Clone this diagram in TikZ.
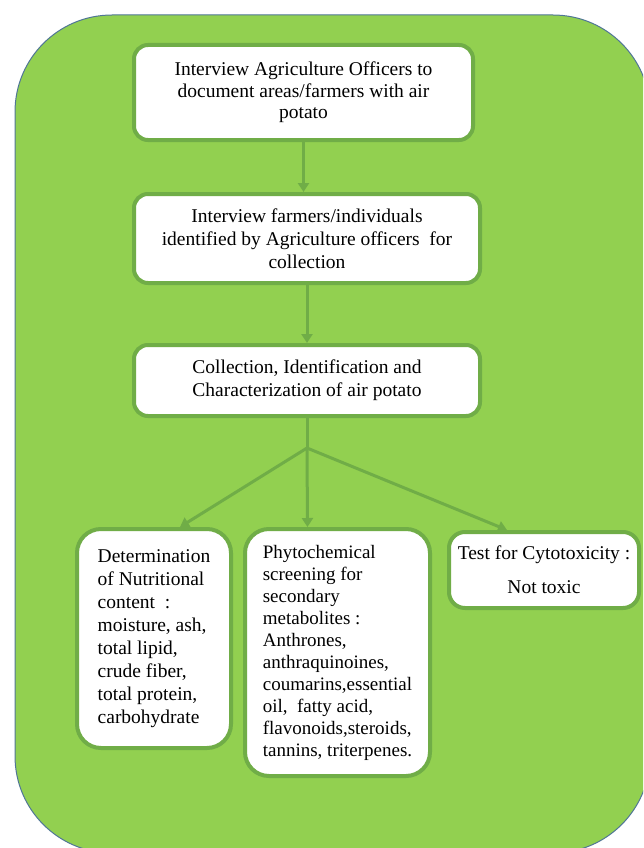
\documentclass[tikz,border=0pt]{standalone}
\usepackage{fontspec}
\setmainfont{LiberationSerif}[Extension=.ttf,UprightFont=*-Regular,BoldFont=*-Bold]
\usetikzlibrary{arrows.meta}

\definecolor{leaf}{RGB}{146,208,80}
\definecolor{rim}{RGB}{112,173,71}
\definecolor{edge}{RGB}{80,118,150}

\begin{document}
\begin{tikzpicture}[x=1pt,y=-1pt,
    stage/.style={draw=rim,fill=white,line width=4pt,rounded corners=14pt,align=center,inner sep=0pt,font=\fontsize{19.5}{23}\selectfont},
    branch/.style={stage,align=left,rounded corners=24pt},
    flow/.style={draw=rim,line width=3pt,-{Triangle[length=9pt,width=11pt]}}]
    \useasboundingbox (0,0) rectangle (643,848);
    \clip (0,0) rectangle (643,848);
    \draw[fill=leaf,draw=edge,line width=1pt,rounded corners=97pt] (15,15) rectangle (650,853);

    \node (officers) at (303.5,92.5) [stage,minimum width=339,minimum height=95,font=\fontsize{19.5}{21.5}\selectfont] {Interview Agriculture Officers to\\document areas/farmers with air\\potato};
    \node (farmers) at (307,238.5) [stage,minimum width=346,minimum height=89] {Interview farmers/individuals\\identified by Agriculture officers\ \ for\\collection};
    \node (collect) at (307,380.5) [stage,minimum width=346,minimum height=71] {Collection, Identification and\\Characterization of air potato};

    \node (nutri) at (154,638.5) [branch,minimum width=154,minimum height=219] {Determination\\of Nutritional\\content\ \ :\\moisture, ash,\\total lipid,\\crude fiber,\\total protein,\\carbohydrate};
    \node (phyto) at (337.5,652.5) [branch,minimum width=185,minimum height=247,font=\fontsize{19}{22}\selectfont] {Phytochemical\\screening for\\secondary\\metabolites :\\Anthrones,\\anthraquinoines,\\coumarins,essential\\oil,\ \ fatty acid,\\flavonoids,steroids,\\tannins, triterpenes.};
    \node (cyto) at (544,570) [stage,minimum width=190,minimum height=76,rounded corners=16pt] {Test for Cytotoxicity :\\[11pt]Not toxic};

    \coordinate (split) at (307,448);
    \draw[flow] (officers.south) -- (officers.south |- farmers.north);
    \draw[flow] (farmers.south) -- (collect.north);
    \draw[draw=rim,line width=3pt] (collect.south) -- (split);
    \draw[flow] (split) -- ([xshift=26pt]nutri.north);
    \draw[flow] (split) -- ([xshift=-30pt]phyto.north);
    \draw[flow] (split) -- ([xshift=-37pt]cyto.north);
\end{tikzpicture}
\end{document}
